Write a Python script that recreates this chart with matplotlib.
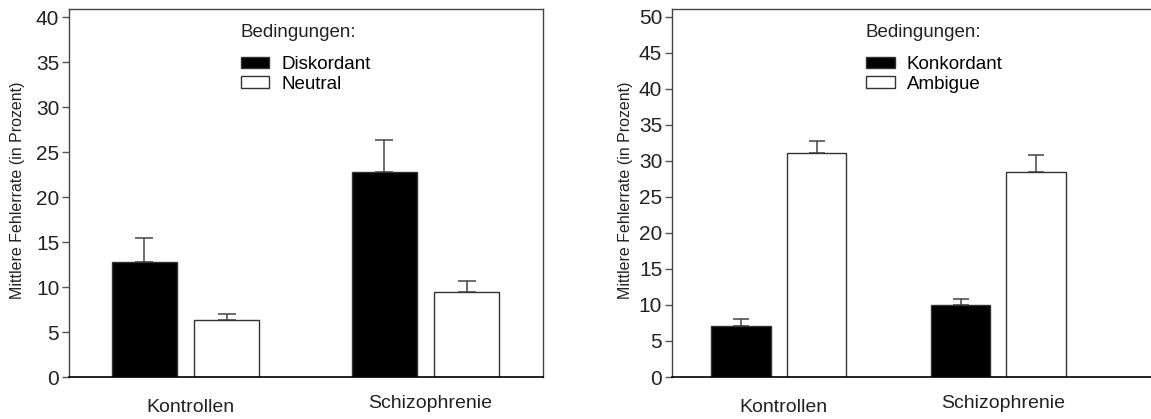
import matplotlib.pyplot as plt
import numpy as np
from matplotlib.transforms import ScaledTranslation

plt.rcParams['font.family'] = ['Liberation Sans', 'DejaVu Sans']

groups = ['Kontrollen', 'Schizophrenie']
ylabel = 'Mittlere Fehlerrate (in Prozent)'
legend_title = 'Bedingungen:'

# left panel: Diskordant vs Neutral
left_names = ['Diskordant', 'Neutral']
left_mean = [[12.8, 22.8], [6.35, 9.5]]
left_err = [[2.7, 3.5], [0.65, 1.2]]
left_ticks = np.arange(0, 41, 5)

# right panel: Konkordant vs Ambigue
right_names = ['Konkordant', 'Ambigue']
right_mean = [[7.15, 9.93], [31.1, 28.4]]
right_err = [[0.95, 0.95], [1.7, 2.4]]
right_ticks = np.arange(0, 51, 5)

fills = ['black', 'white']
edge = '#333333'


def draw_panel(ax, names, means, errs, ticks, ymax, xlim, capsize, lab_x, leg_x):
    x = np.arange(len(groups))
    offsets = [-0.172, 0.172]
    for name, m, e, off, fc in zip(names, means, errs, offsets, fills):
        ax.bar(x + off, m, width=0.27, color=fc, edgecolor=edge,
               linewidth=1.0, label=name, zorder=2)
        # only the upper half of the error bar is shown
        ax.errorbar(x + off, m, yerr=[np.zeros(len(e)), e], fmt='none',
                    ecolor='#444444', elinewidth=1.1, capsize=capsize,
                    capthick=1.1, zorder=1)

    ax.set_ylim(0, ymax)
    ax.set_xlim(*xlim)
    ax.set_yticks(ticks)
    ax.set_xticks(x)
    ax.set_xticklabels(groups)
    ax.tick_params(axis='y', length=5, width=1, color='#555555', pad=2,
                   labelsize=15, labelcolor='#222222')
    ax.tick_params(axis='x', length=0, pad=16, labelsize=14,
                   labelcolor='#222222')
    for lbl, dy in zip(ax.get_xticklabels(), [0, 4]):
        lbl.set_transform(lbl.get_transform() +
                          ScaledTranslation(5 / 100, dy / 100, ax.figure.dpi_scale_trans))

    for side in ['left', 'top', 'right']:
        ax.spines[side].set_color('#444444')
        ax.spines[side].set_linewidth(1.0)
    ax.spines['bottom'].set_color('black')
    ax.spines['bottom'].set_linewidth(1.2)

    ax.set_ylabel(ylabel, fontsize=11.5, color='#222222')
    ax.yaxis.set_label_coords(lab_x, 0.5086)

    ax.text(leg_x, 0.9238, legend_title, transform=ax.transAxes,
            fontsize=13.5, va='baseline', ha='left', color='#222222')
    ax.legend(loc='upper left', bbox_to_anchor=(leg_x, 0.873), frameon=False,
              fontsize=13.5, borderpad=0, borderaxespad=0, handlelength=1.53,
              handleheight=0.57, handletextpad=0.64, labelspacing=0.15)


fig = plt.figure(figsize=(11.51, 4.19), dpi=100)
ax1 = fig.add_axes([0.05995, 0.1002, 0.4115, 0.8776])
ax2 = fig.add_axes([0.5838, 0.1002, 0.4162, 0.8776])

draw_panel(ax1, left_names, left_mean, left_err, left_ticks, 40.86,
           (-0.486, 1.488), 6.8, -0.093, 0.3625)
draw_panel(ax2, right_names, right_mean, right_err, right_ticks, 51.04,
           (-0.487, 1.696), 6.0, -0.0814, 0.405)
ax2.spines['right'].set_visible(False)

fig.savefig('out.png', dpi=100)
